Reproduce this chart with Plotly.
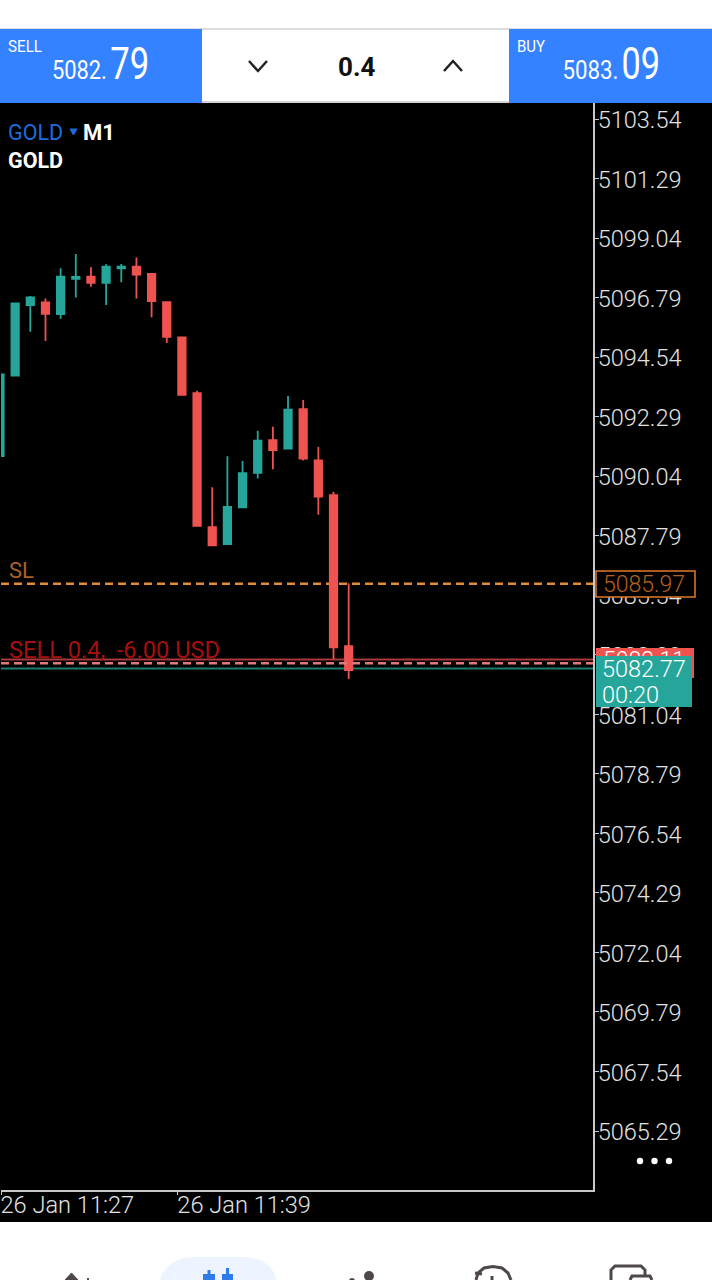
import plotly.graph_objects as go

# ---------- data ----------
times = ["2026-01-26 11:%02d:00" % m for m in range(27, 51)]
opens = [5090.80, 5093.84, 5096.51, 5096.61, 5096.17, 5097.50, 5097.58, 5097.35,
         5097.90, 5097.96, 5097.69, 5096.62, 5095.29, 5093.18, 5088.11, 5087.47,
         5088.86, 5090.17, 5091.40, 5091.08, 5092.57, 5090.64, 5089.32, 5083.62]
highs = [5093.89, 5096.57, 5096.85, 5096.76, 5097.90, 5098.44, 5097.94, 5098.05,
         5098.06, 5098.31, 5097.72, 5096.65, 5095.29, 5093.27, 5089.62, 5090.79,
         5090.61, 5091.76, 5091.91, 5093.07, 5092.92, 5091.14, 5089.45, 5085.99]
lows = [5090.80, 5093.84, 5095.50, 5095.15, 5095.99, 5096.79, 5097.20, 5096.51,
        5097.37, 5096.76, 5096.05, 5095.07, 5093.11, 5088.16, 5087.43, 5087.47,
        5088.86, 5089.95, 5090.30, 5091.08, 5090.63, 5088.58, 5083.12, 5082.37]
closes = [5093.89, 5096.57, 5096.80, 5096.18, 5097.58, 5097.57, 5097.35, 5097.96,
          5097.96, 5097.66, 5096.66, 5095.31, 5093.11, 5088.16, 5087.43, 5088.88,
          5090.15, 5091.38, 5091.03, 5092.55, 5090.70, 5089.27, 5083.57, 5082.71]

price_ticks = [5103.54, 5101.29, 5099.04, 5096.79, 5094.54, 5092.29, 5090.04, 5087.79,
               5085.54, 5083.29, 5081.04, 5078.79, 5076.54, 5074.29, 5072.04, 5069.79,
               5067.54, 5065.29]
time_tick_vals = ["2026-01-26 11:27:04", "2026-01-26 11:38:44"]
time_tick_text = ["26 Jan 11:27", "26 Jan 11:39"]

sl_level = 5085.97
open_level = 5083.11
ask_level = 5082.97
bid_level = 5082.77
y_range = [5063.06, 5104.145]
x_range = ["2026-01-26 11:27:04", "2026-01-26 12:06:07"]

# ---------- style ----------
W, H = 712, 1280
UP, DOWN = "#26A69A", "#EF5350"
BLUE = "#3482FF"
AXIS = "#C9C9C9"
ICON = "#4F4848"
NAV_BLUE = "#2F7BEA"


def px(x):
    return x / W


def py(y):
    return 1 - y / H


shapes, annotations = [], []


def rect(x0, y0, x1, y1, fill, line=None, layer="above", lw=1.5):
    shapes.append(dict(type="rect", xref="paper", yref="paper", x0=px(x0), x1=px(x1),
                       y0=py(y1), y1=py(y0), fillcolor=fill, layer=layer,
                       line=dict(color=line or fill, width=lw if line else 0)))


def poly(points, color, width=2.5, fill=None, close=False):
    d = " ".join(("M" if i == 0 else "L") + f"{px(a):.5f},{py(b):.5f}" for i, (a, b) in enumerate(points))
    shapes.append(dict(type="path", xref="paper", yref="paper", path=d + (" Z" if close else ""),
                       line=dict(color=color, width=width), fillcolor=fill or "rgba(0,0,0,0)", layer="above"))


def circle(cx, cy, r, fill):
    shapes.append(dict(type="circle", xref="paper", yref="paper", x0=px(cx - r), x1=px(cx + r),
                       y0=py(cy + r), y1=py(cy - r), fillcolor=fill, line=dict(width=0), layer="above"))


def text(x, y, s, size, color, anchor="left", weight=None):
    font = dict(size=size, color=color, family="Roboto")
    if weight:
        font["weight"] = weight
    annotations.append(dict(xref="paper", yref="paper", x=px(x), y=py(y), text=s, showarrow=False,
                            xanchor=anchor, yanchor="middle", align=anchor, font=font, borderpad=0))


def level(v, color, dash, layer, width=2):
    shapes.append(dict(type="line", xref="x domain", yref="y", x0=0, x1=1, y0=v, y1=v, layer=layer,
                       line=dict(color=color, width=width, dash=dash)))


# backgrounds
rect(0, 103, W, 1222, "#000000", layer="below")
rect(0, 28, W, 30, "#DDDDDD", layer="below")
rect(202, 101, 509, 103, "#D5D5D5", layer="below")
rect(0, 29, 202, 103, BLUE)
rect(509, 29, W, 103, BLUE)

# top trade panel: these texts are squeezed to the condensed widths of the original
text(25, 46, "SELL", 17, "#FFFFFF", "center")
text(79, 70, "5082.", 25, "#FFFFFF", "center")
text(129.5, 64, "79", 44, "#FFFFFF", "center")
text(531.5, 46, "BUY", 17, "#FFFFFF", "center")
text(590, 70, "5083.", 25, "#FFFFFF", "center")
text(640, 64, "09", 44, "#FFFFFF", "center")
text(356, 67, "<b>0.4</b>", 26, "#111111", "center")
poly([(249, 61), (258, 71), (267, 61)], "#222222")
poly([(444, 71), (453, 61), (462, 71)], "#222222")

# chart header
text(7, 132, "GOLD", 21.5, "#1C6CDD")
poly([(70, 129), (77, 129), (73.5, 135)], "#1C6CDD", 1, "#1C6CDD", True)
text(82, 132, "<b>M1</b>", 22, "#FFFFFF")
text(7, 160, "<b>GOLD</b>", 21.5, "#FFFFFF")

# order lines
level(sl_level, "#E08A3C", "8px,5px", "below", 2.5)
level(open_level, "#A8393A", "solid", "below")
level(bid_level, "#1F7A70", "solid", "below")
level(ask_level, "#E07A7A", "8px,5px", "above", 2.5)
text(8, 570, "SL", 22, "#A8622A")
text(8, 650, "SELL&nbsp;0.4,&nbsp;&nbsp;-6.00&nbsp;USD", 23.6, "#A50F0F")

# price labels
rect(596, 571, 695, 597, "#000000", "#E07B2E")
text(644, 584, "5085.97", 23, "#B4601F", "center", 300)
rect(596, 648, 694, 678, DOWN)
text(644, 660, "5083.11", 23, "#FFFFFF", "center", 300)
annotations.append(dict(xref="paper", yref="paper", x=px(644), y=py(681.5), text="&nbsp;", showarrow=False,
                        xanchor="center", yanchor="middle", width=96, height=51, bgcolor=UP,
                        borderpad=0, borderwidth=0, font=dict(size=10, color=UP)))
text(601, 669, "5082.77", 23.5, "#FFFFFF", "left", 300)
text(601, 695, "00:20", 23.5, "#FFFFFF", "left", 300)

# three dots
for cx in (640, 654.5, 669):
    circle(cx, 1161, 3.2, "#FFFFFF")

# bottom navigation, cut by the lower edge
shapes.append(dict(type="path", xref="paper", yref="paper", layer="above", fillcolor="#EDF4FF",
                   line=dict(width=0),
                   path=f"M{px(160)},{py(1280)} C{px(165)},{py(1263)} {px(180)},{py(1257)} {px(195)},{py(1257)} "
                        f"L{px(242)},{py(1257)} C{px(258)},{py(1257)} {px(272)},{py(1263)} {px(277)},{py(1280)} Z"))
rect(203, 1274, 215, 1280, NAV_BLUE)
rect(207.5, 1270, 210.5, 1275, NAV_BLUE)
rect(222, 1274, 233, 1280, NAV_BLUE)
rect(226, 1268, 229, 1275, NAV_BLUE)
poly([(65, 1280), (71.5, 1273), (78, 1280)], ICON, 1, ICON, True)
rect(87, 1278, 89, 1280, ICON)
circle(369, 1276, 5, ICON)
circle(352, 1281, 3, ICON)
poly([(476, 1280), (478, 1273), (484, 1268), (493, 1266.5), (502, 1268), (508, 1273), (511, 1280)], ICON, 3)
poly([(475, 1273), (482, 1274)], ICON, 3)
rect(490.5, 1276, 493.5, 1280, ICON)
poly([(611, 1280), (611, 1270), (615, 1266), (641, 1266), (645, 1270), (645, 1276)], ICON, 3)
poly([(630, 1280), (632, 1276), (650, 1276), (652, 1280)], ICON, 3)

# ---------- figure ----------
fig = go.Figure(go.Candlestick(
    x=times, open=opens, high=highs, low=lows, close=closes,
    increasing=dict(line=dict(color=UP, width=1.8), fillcolor=UP),
    decreasing=dict(line=dict(color=DOWN, width=1.8), fillcolor=DOWN),
    whiskerwidth=0, hoverinfo="skip", name="GOLD"))

fig.update_layout(
    width=W, height=H, margin=dict(l=0, r=0, t=0, b=0, pad=0), showlegend=False,
    paper_bgcolor="#FFFFFF", plot_bgcolor="#000000",
    shapes=shapes, annotations=annotations,
    xaxis=dict(domain=[px(1), px(593)], type="date", range=x_range, rangeslider=dict(visible=False),
               showgrid=False, zeroline=False, showline=True, linecolor=AXIS, linewidth=2,
               ticks="outside", ticklen=3, tickcolor=AXIS, tickwidth=1,
               tickmode="array", tickvals=time_tick_vals, ticktext=time_tick_text,
               ticklabelposition="outside right", ticklabelstandoff=-7, ticklabelshift=-2, automargin=False,
               tickfont=dict(family="Roboto", size=23.6, color="#E2E2E2", weight=300)),
    yaxis=dict(domain=[py(1190), py(103)], side="right", range=y_range,
               showgrid=False, zeroline=False, showline=True, linecolor=AXIS, linewidth=2,
               ticks="outside", ticklen=4, tickcolor=AXIS, tickwidth=1,
               tickmode="array", tickvals=price_ticks, ticktext=[f"{v:.2f}" for v in price_ticks],
               ticklabelstandoff=-6, ticklabelshift=1, automargin=False,
               tickfont=dict(family="Roboto", size=23.5, color="#E2E2E2", weight=300)),
)

squeeze = """
document.body.style.margin='0';document.documentElement.style.overflow='hidden';
var widths={'SELL':34,'BUY':28,'5082.':55,'79':39,'5083.':56,'09':38.5};
document.querySelectorAll('.annotation-text').forEach(function(t){
  var w=widths[t.textContent];
  if(w){t.setAttribute('textLength',w);t.setAttribute('lengthAdjust','spacingAndGlyphs');}
});
"""
fig.write_html("out.html", config={"displayModeBar": False, "staticPlot": True}, post_script=squeeze)
